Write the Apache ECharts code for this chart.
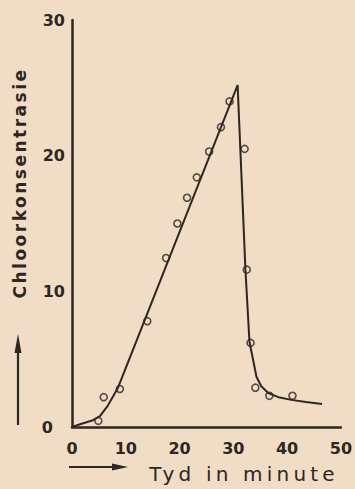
<!DOCTYPE html>
<html><head><meta charset="utf-8">
<script src="https://cdn.jsdelivr.net/npm/echarts@6/dist/echarts.min.js"></script>
<style>html,body{margin:0;padding:0;background:#f1ddc6}#chart{width:355px;height:489px}</style>
</head><body><div id="chart"></div>
<script>
// ---- data ----
const xTicks = [0, 10, 20, 30, 40, 50];
const yTicks = [0, 10, 20, 30];
const xTitle = 'Tyd in minute';
const yTitle = 'Chloorkonsentrasie';
// observed points (circles)
const obsTime     = [4.9, 5.9, 8.9, 14.0, 17.5, 19.6, 21.4, 23.2, 25.5, 27.7, 29.3, 32.1, 32.5, 33.2, 34.1, 36.7, 41.0];
const obsChlorine = [0.45, 2.2, 2.8, 7.8, 12.45, 15.0, 16.9, 18.4, 20.3, 22.1, 24.0, 20.5, 11.6, 6.2, 2.9, 2.3, 2.3];
// drawn curve
const fitTime     = [0, 1.5, 3.9, 5.2, 6.7, 8.5, 30.8, 32.25, 33.0, 33.7, 34.3, 35.2, 36.5, 38.4, 40.8, 43.5, 46.5];
const fitChlorine = [0, 0.2, 0.5, 0.8, 1.6, 2.85, 25.2, 11.6, 6.3, 4.9, 3.7, 3.0, 2.5, 2.2, 2.0, 1.85, 1.7];

const ink = '#2e2620';
const bg = '#f1ddc6';

const chart = echarts.init(document.getElementById('chart'), null, {renderer: 'svg'});
chart.setOption({
  backgroundColor: bg,
  animation: false,
  grid: {left: 72, right: 12, top: 20, bottom: 62},
  xAxis: {
    type: 'value', min: 0, max: 50, interval: 10,
    axisLine: {show: true, onZero: false, lineStyle: {color: ink, width: 2.5}},
    axisTick: {show: false}, splitLine: {show: false},
    axisLabel: {
      margin: 13, color: ink, fontFamily: 'DejaVu Sans', fontWeight: 'bold', fontSize: 16,
      formatter: v => xTicks.includes(v) ? String(v) : ''
    }
  },
  yAxis: {
    type: 'value', min: 0, max: 30, interval: 10,
    axisLine: {show: true, onZero: false, lineStyle: {color: ink, width: 2.5}},
    axisTick: {show: false}, splitLine: {show: false},
    axisLabel: {
      margin: 7, color: ink, fontFamily: 'DejaVu Sans', fontWeight: 'bold', fontSize: 16,
      formatter: v => yTicks.includes(v) ? (v === 0 ? '{z|0}' : String(v)) : '',
      rich: {z: {padding: [0, 12, 0, 0], color: ink, fontFamily: 'DejaVu Sans', fontWeight: 'bold', fontSize: 16}}
    }
  },
  series: [
    {
      type: 'line', data: fitTime.map((t, i) => [t, fitChlorine[i]]),
      showSymbol: false, smooth: false,
      lineStyle: {color: ink, width: 2}
    },
    {
      type: 'scatter', data: obsTime.map((t, i) => [t, obsChlorine[i]]),
      symbol: 'circle', symbolSize: 7,
      itemStyle: {color: 'rgba(0,0,0,0)', borderColor: ink, borderWidth: 1.6}
    }
  ],
  graphic: [
    {type: 'text', x: 20, y: 183, rotation: Math.PI / 2,
     style: {text: yTitle, fill: ink, font: 'bold 17px "DejaVu Sans"', textAlign: 'center', textVerticalAlign: 'middle'}},
    {type: 'text', x: 244, y: 474,
     style: {text: xTitle, fill: ink, font: '20px "DejaVu Sans"', textAlign: 'center', textVerticalAlign: 'middle'}},
    {type: 'line', shape: {x1: 18, y1: 425, x2: 18, y2: 348}, style: {stroke: ink, lineWidth: 2.2}},
    {type: 'polygon', shape: {points: [[18, 334], [14.5, 353], [21.5, 353]]}, style: {fill: ink}},
    {type: 'line', shape: {x1: 69, y1: 467, x2: 116, y2: 467}, style: {stroke: ink, lineWidth: 2}},
    {type: 'polygon', shape: {points: [[128, 467], [112, 463.5], [112, 470.5]]}, style: {fill: ink}}
  ]
});

function spaceOut() {
  document.querySelectorAll('#chart text').forEach(t => {
    if (t.textContent === xTitle) t.setAttribute('letter-spacing', '4.2');
    if (t.textContent === yTitle) t.setAttribute('letter-spacing', '2.5');
  });
}
chart.on('finished', spaceOut);
spaceOut();
</script>
</body></html>
